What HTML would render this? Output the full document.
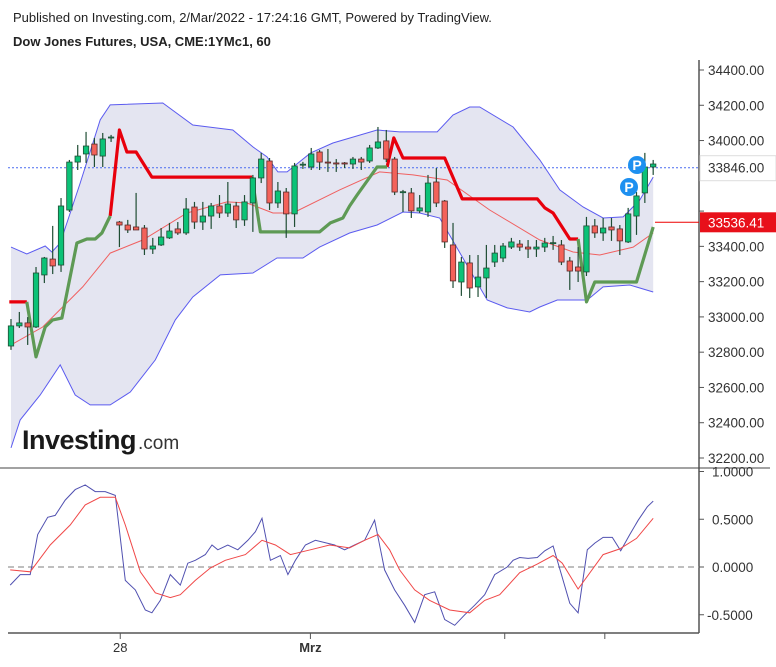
<!DOCTYPE html>
<html><head><meta charset="utf-8">
<style>
html,body{margin:0;padding:0;background:#fff;}
body{width:776px;height:662px;overflow:hidden;font-family:"Liberation Sans",sans-serif;}
svg text{font-family:"Liberation Sans",sans-serif;}
</style></head>
<body>
<svg id="chart" width="776" height="662" viewBox="0 0 776 662" xmlns="http://www.w3.org/2000/svg">
<text x="13" y="22" font-size="13" fill="#222">Published on Investing.com, 2/Mar/2022 - 17:24:16 GMT, Powered by TradingView.</text>
<text x="13" y="46" font-size="13" font-weight="bold" fill="#222">Dow Jones Futures, USA, CME:1YMc1, 60</text>
<g id="bands"></g>
<g id="grid"></g>
<g id="lines"></g>
<g id="candles"></g>
<g id="osc"></g>
<g>
<text x="22" y="449" font-size="27" font-weight="bold" fill="#1a1a1a" letter-spacing="-0.5">Investing</text>
<text x="138" y="449" font-size="19" fill="#333">.com</text>
</g>
</svg>
<script>
// ---- candle data (OHLC) ----
const opens  = [32835,32949,32966,32943,33238,33328,33294,33606,33878,33924,33980,33912,34015,33538,33521,33510,33504,33385,33408,33448,33499,33476,33623,33538,33572,33629,33589,33629,33550,33646,33788,33884,33646,33708,33584,33861,33850,33935,33878,33873,33873,33867,33895,33884,33958,33998,33895,33708,33703,33601,33595,33765,33657,33408,33198,33306,33170,33221,33311,33334,33396,33413,33396,33385,33396,33419,33408,33317,33283,33255,33516,33476,33510,33499,33425,33572,33703,33850];
const highs  = [32988,33028,32999,33283,33340,33516,33674,33890,33975,34049,34015,34043,34032,33544,33550,33703,33521,33448,33504,33533,33538,33674,33652,33652,33646,33691,33765,33652,33691,33805,33930,33901,33765,33731,33873,33879,33958,33946,33952,33895,33878,33907,33907,33975,34077,34060,33907,33720,33731,33691,33805,33844,33663,33533,33340,33351,33351,33408,33408,33419,33448,33436,33436,33436,33448,33459,33436,33340,33396,33567,33555,33561,33561,33521,33618,33708,33930,33890];
const lows   = [32813,32937,32841,32937,33192,33243,33255,33595,33833,33873,33850,33850,33992,33396,33476,33493,33351,33357,33402,33442,33465,33465,33499,33493,33499,33561,33567,33504,33516,33482,33759,33606,33618,33448,33510,33839,33833,33833,33822,33822,33844,33839,33833,33873,33952,33878,33691,33595,33561,33589,33567,33623,33391,33164,33119,33107,33113,33107,33283,33311,33385,33374,33334,33340,33368,33380,33294,33153,33198,33232,33448,33431,33431,33351,33419,33465,33646,33805];
const closes = [32949,32966,32943,33249,33334,33289,33629,33878,33912,33969,33918,34009,34020,33521,33493,33493,33385,33402,33453,33487,33476,33612,33538,33572,33629,33589,33640,33550,33652,33788,33895,33646,33714,33584,33856,33866,33924,33878,33873,33867,33867,33895,33878,33958,33992,33895,33708,33710,33601,33618,33759,33646,33425,33204,33311,33164,33226,33277,33362,33402,33425,33396,33385,33396,33419,33421,33311,33260,33260,33516,33476,33504,33493,33431,33584,33686,33850,33867];
// ---- Bollinger bands [candle index, price] ----
const upperIdx = [0,1.9,4.1,4.9,5.9,8.3,10.7,11.9,18.2,21.8,26.6,29,30.7,32,33.1,35.9,38.6,43.9,46.6,51.1,53,55,56.2,60.2,63.4,65.8,68.6,71,73.4,75.4,77];
const upperVal = [33396,33357,33402,33368,33419,33759,34117,34202,34213,34088,34060,33964,33907,33822,33822,33929,33986,34060,34049,34049,34145,34190,34190,34077,33890,33720,33623,33561,33567,33663,33793];
const lowerIdx = [0,1.1,3.5,5.9,7.7,9.5,11.9,14.3,17.3,19.7,21.8,25.1,29,31.9,35,37,40.6,43.9,47,49,51.4,57.1,59.5,62.2,63.4,65.5,69.1,71,74.2,77];
const lowerVal = [32257,32416,32557,32728,32557,32501,32501,32574,32756,32983,33113,33238,33249,33334,33334,33396,33476,33521,33595,33589,33561,33096,33051,33028,33056,33096,33096,33170,33181,33141];
const midIdx = [0,3.8,8.6,11.9,15.8,21.1,25.9,28.3,31.4,33.8,39.4,44.2,48.2,52.3,57.4,63.4,67.4,70.6,74.6,77];
const midVal = [32841,32943,33170,33362,33436,33589,33652,33646,33589,33589,33720,33822,33805,33776,33606,33436,33368,33351,33396,33476];
// ---- supertrend segments ----
const redSeg1Idx = [-0.2,1.9];
const redSeg1Val = [33085,33085];
const redSeg2Idx = [11.9,13,13.9,15,16.9,28.9];
const redSeg2Val = [33572,34060,33935,33935,33793,33793];
const redSeg3Idx = [45.1,45.9,47,52,54.1,63.1,64,65,67,68];
const redSeg3Val = [33850,34015,33901,33901,33669,33669,33618,33589,33442,33442];
const grnSeg1Idx = [1.9,3,4.1,5,6.1,7.9,9.1,10.1,10.9,11.9];
const grnSeg1Val = [33085,32773,32943,32983,32994,33419,33442,33442,33476,33572];
const grnSeg2Idx = [28.9,29.9,37,38.3,39.8,40.6,41.5,43.9,45.1];
const grnSeg2Val = [33793,33482,33482,33533,33561,33629,33691,33850,33850];
const grnSeg3Idx = [68,69,70,75,77];
const grnSeg3Val = [33442,33085,33198,33198,33510];
// ---- oscillator ----
const blueIdx = [-0.1,1.1,2.3,3.2,4.4,5.3,6.5,7.7,8.9,10.1,11.3,12.5,13.7,14.9,16.1,16.9,17.9,19.1,20.3,21.2,22.1,23.3,24.1,24.8,26,27.2,28.4,29.3,30.1,31.1,32.3,33.2,34.1,35.3,36.5,38.8,40,41.2,42.4,43.6,44.8,46,47.2,48.4,49.6,50.8,52,53.2,54.4,55.6,56.8,58,59.5,60.2,61,62,63.1,64,65,67,68,69.1,70,71,72.1,73.1,74.2,75.2,76.3,77];
const blueVal = [-0.19,-0.08,-0.08,0.34,0.52,0.54,0.70,0.81,0.86,0.79,0.79,0.75,-0.14,-0.24,-0.45,-0.48,-0.35,-0.08,-0.19,0.04,0.07,0.13,0.23,0.18,0.23,0.18,0.28,0.37,0.51,0.07,0.12,-0.08,0.07,0.23,0.28,0.23,0.18,0.23,0.28,0.49,-0.03,-0.24,-0.40,-0.58,-0.29,-0.26,-0.55,-0.61,-0.50,-0.40,-0.29,-0.08,0.0,0.07,0.10,0.09,0.10,0.17,0.22,-0.38,-0.48,0.18,0.25,0.31,0.31,0.17,0.34,0.49,0.63,0.69];
const sigIdx = [-0.1,2.3,4.7,7.1,8.9,10.7,12.5,13.7,15.5,17.3,19.1,20.3,22.1,23.9,25.7,28.1,30.1,31.7,33.5,35.9,38.2,40.6,42.4,44,45.4,46.6,48.4,50.2,52.6,55,56.8,58.6,61,63.1,65,66.1,68,71,73,75,77];
const sigVal = [-0.03,-0.05,0.23,0.44,0.65,0.73,0.73,0.44,-0.05,-0.27,-0.32,-0.29,-0.14,-0.01,0.07,0.13,0.28,0.23,0.13,0.18,0.23,0.20,0.28,0.34,0.18,-0.03,-0.24,-0.35,-0.45,-0.48,-0.35,-0.29,-0.06,0.03,0.12,0.04,-0.23,0.13,0.19,0.30,0.51];
const priceTicks = [34400,34200,34000,33800,33600,33400,33200,33000,32800,32600,32400,32200];
const oscTicks = [1,0.5,0,-0.5];
const oscTickLabels = ["1.0000","0.5000","0.0000","-0.5000"];
const timeTickIdx = [13.1,35.9,59.2,71.2];
const timeTickLabels = ["28","Mrz","",""];
const lastPrice = 33846;
const stopPrice = 33536.41;

const NS="http://www.w3.org/2000/svg";
const X = i => 11 + i*8.34;
const Y = p => 70 + (34400-p)*0.17636;
const YO = v => 567 - 95.5*v;
function mk(tag, attrs, parent){const e=document.createElementNS(NS,tag);for(const k in attrs)e.setAttribute(k,attrs[k]);parent.appendChild(e);return e;}
const gB=document.getElementById('bands'),gG=document.getElementById('grid'),gL=document.getElementById('lines'),gC=document.getElementById('candles'),gO=document.getElementById('osc');
const pts=(ix,vs,fy)=>ix.map((i,k)=>X(i).toFixed(1)+','+fy(vs[k]).toFixed(1)).join(' ');

// band fill
const fillPts = pts(upperIdx,upperVal,Y)+' '+pts(lowerIdx.slice().reverse(),lowerVal.slice().reverse(),Y);
let e=mk('polygon',{points:fillPts,fill:'#e4e5f1',stroke:'none'},gB);

e=mk('polyline',{points:pts(upperIdx,upperVal,Y),fill:'none',stroke:'#5b5bf0','stroke-width':1},gB);

e=mk('polyline',{points:pts(lowerIdx,lowerVal,Y),fill:'none',stroke:'#5b5bf0','stroke-width':1},gB);

e=mk('polyline',{points:pts(midIdx,midVal,Y),fill:'none',stroke:'#f06060','stroke-width':1},gB);


// axes
e=mk('line',{x1:699,y1:60,x2:699,y2:633,stroke:'#555','stroke-width':1.5},gG);

e=mk('line',{x1:0,y1:468,x2:770,y2:468,stroke:'#444','stroke-width':1},gG);

e=mk('line',{x1:8,y1:633,x2:699,y2:633,stroke:'#555','stroke-width':1.5},gG);

priceTicks.forEach(p=>{
  const y=Y(p);
  let t=mk('line',{x1:699,y1:y,x2:704,y2:y,stroke:'#555'},gG);
  
  if(Math.abs(y-Y(lastPrice))<18||Math.abs(y-Y(stopPrice))<18) return;
  t=mk('text',{x:708,y:y+5,'font-size':13.5,fill:'#333'},gG);t.textContent=p.toFixed(2);
  
});
oscTicks.forEach((v,k)=>{
  const y=YO(v);
  let t=mk('line',{x1:699,y1:y,x2:704,y2:y,stroke:'#555'},gG);
  
  t=mk('text',{x:v<0?707:712,y:y+5,'font-size':13.5,fill:'#333'},gG);t.textContent=oscTickLabels[k];
  
});
timeTickIdx.forEach((i,k)=>{
  const x=X(i);
  let t=mk('line',{x1:x,y1:633,x2:x,y2:639,stroke:'#555'},gG);
  
  if(timeTickLabels[k]){t=mk('text',{x:x,y:652,'font-size':13,fill:'#333','text-anchor':'middle','font-weight':k===1?'bold':'normal'},gG);t.textContent=timeTickLabels[k];
  }
});
// last price line
e=mk('line',{x1:8,y1:Y(lastPrice),x2:699,y2:Y(lastPrice),stroke:'#4a6cf0','stroke-width':1,'stroke-dasharray':'2,2'},gG);

e=mk('rect',{x:700,y:Y(lastPrice)-12,width:76,height:25,fill:'#fff',stroke:'#ddd'},gG);

e=mk('text',{x:708,y:Y(lastPrice)+5,'font-size':13.5,fill:'#333'},gG);e.textContent=lastPrice.toFixed(2);

e=mk('line',{x1:655,y1:Y(stopPrice),x2:699,y2:Y(stopPrice),stroke:'#e00','stroke-width':1},gG);

e=mk('rect',{x:700,y:Y(stopPrice)-10,width:76,height:20,fill:'#e8101a'},gG);

e=mk('text',{x:708,y:Y(stopPrice)+5,'font-size':13.5,fill:'#fff'},gG);e.textContent=stopPrice.toFixed(2);


// supertrend
[[redSeg1Idx,redSeg1Val,'#e8000c'],[redSeg2Idx,redSeg2Val,'#e8000c'],[redSeg3Idx,redSeg3Val,'#e8000c'],
 [grnSeg1Idx,grnSeg1Val,'#5e9a55'],[grnSeg2Idx,grnSeg2Val,'#5e9a55'],[grnSeg3Idx,grnSeg3Val,'#5e9a55']].forEach(s=>{
  const l=mk('polyline',{points:pts(s[0],s[1],Y),fill:'none',stroke:s[2],'stroke-width':3.2,'stroke-linejoin':'round'},gL);
  
});

// candles
opens.forEach((o,i)=>{
  const c=closes[i],x=X(i),up=c>=o;
  const w=mk('line',{x1:x,y1:Y(highs[i]),x2:x,y2:Y(lows[i]),stroke:'#1f4d34','stroke-width':1.2},gC);
  
  const top=Y(Math.max(o,c)),bot=Y(Math.min(o,c));
  const b=mk('rect',{x:x-2.7,y:top,width:5.4,height:Math.max(1,bot-top),fill:up?'#0cc277':'#f3625a',stroke:up?'#1f4d34':'#5a2a2a','stroke-width':0.8},gC);
  
});
// P markers
[[629,187],[637,165]].forEach(p=>{
  const c=mk('circle',{cx:p[0],cy:p[1],r:9,fill:'#1e90f0'},gC);
  
  const t=mk('text',{x:p[0],y:p[1]+5,'font-size':14,'font-weight':'bold',fill:'#fff','text-anchor':'middle'},gC);t.textContent='P';
  
});

// oscillator
e=mk('line',{x1:8,y1:YO(0),x2:699,y2:YO(0),stroke:'#999','stroke-width':1.3,'stroke-dasharray':'6,4'},gO);

e=mk('polyline',{points:pts(blueIdx,blueVal,YO),fill:'none',stroke:'#5050b0','stroke-width':1},gO);

e=mk('polyline',{points:pts(sigIdx,sigVal,YO),fill:'none',stroke:'#f04848','stroke-width':1},gO);

</script>
</body></html>
